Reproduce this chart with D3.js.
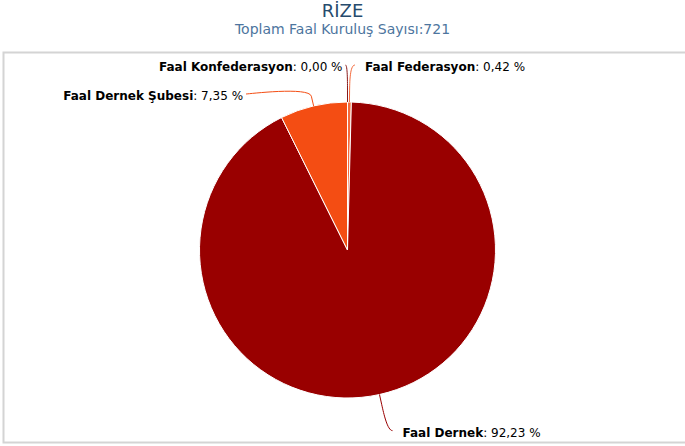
<!DOCTYPE html>
<meta charset="utf-8">
<head>
    <style>
        *{ padding: 0; margin: 0; }
        html,body{ width: 685px; height: 446px; background: #fff; overflow: hidden; }
        svg{ font-family: "DejaVu Sans", Verdana, sans-serif; display: block; }
    </style>
</head>
<body>
    <svg id="chart" width="685" height="446"></svg>
    <script src="https://cdn.jsdelivr.net/npm/d3@7"></script>
    <script>
        // veriler
        var titleText = "RİZE";
        var subtitleText = "Toplam Faal Kuruluş Sayısı:721";
        var names = ["Faal Federasyon", "Faal Dernek", "Faal Dernek Şubesi", "Faal Konfederasyon"];
        var counts = [3, 665, 53, 0];
        var colors = ["#f46a3c", "#990000", "#f44d13", "#8b1a1a"];

        var width = 685, height = 446;
        var svg = d3.select("#chart");

        // cerceve
        svg.append("rect")
            .attr("x", 3.5).attr("y", 52.5)
            .attr("width", 690).attr("height", 390)
            .attr("fill", "#fff")
            .attr("stroke", "#d4d4d4")
            .attr("stroke-width", 2);

        svg.append("text")
            .attr("x", width / 2).attr("y", 17)
            .attr("text-anchor", "middle")
            .attr("fill", "#274b6d")
            .style("font-size", "18px")
            .text(titleText);

        svg.append("text")
            .attr("x", width / 2).attr("y", 34)
            .attr("text-anchor", "middle")
            .attr("fill", "#4d759e")
            .style("font-size", "14px")
            .text(subtitleText);

        var cx = 347.5, cy = 250, r = 148;
        var total = d3.sum(counts);
        var fmt = function(v) { return d3.format(".2f")(v).replace(".", ","); };

        var pie = d3.pie().sort(null).value(function(d) { return d; });
        var arcs = pie(counts);
        var arc = d3.arc().innerRadius(0).outerRadius(r);

        var g = svg.append("g").attr("transform", "translate(" + cx + "," + cy + ")");

        g.selectAll("path.slice")
            .data(arcs)
            .enter().append("path")
            .attr("class", "slice")
            .attr("d", arc)
            .attr("fill", function(d, i) { return colors[i]; })
            .attr("stroke", "#fff")
            .attr("stroke-width", 1)
            .attr("stroke-linejoin", "round");

        // etiket konumlari
        var R = r + 37;
        var labels = arcs.map(function(d, i) {
            var a = (d.startAngle + d.endAngle) / 2;
            var left = a > Math.PI;
            return { i: i, a: a, left: left, y: -R * Math.cos(a) };
        });
        // ayni taraftaki etiketleri ust uste binmesin diye it
        [true, false].forEach(function(side) {
            var s = labels.filter(function(l) { return l.left === side; })
                .sort(function(a, b) { return a.y - b.y; });
            for (var k = 1; k < s.length; k++) {
                if (s[k].y < s[k - 1].y + 29) s[k].y = s[k - 1].y + 29;
            }
        });
        labels.forEach(function(l) {
            var dy = Math.max(-R, Math.min(R, l.y));
            l.x = (l.left ? -1 : 1) * Math.sqrt(R * R - dy * dy);
        });

        var lg = g.append("g");
        labels.forEach(function(l) {
            var sgn = l.left ? -1 : 1;
            var bx = (r + 10) * Math.sin(l.a), by = -(r + 10) * Math.cos(l.a);
            var ex = r * Math.sin(l.a), ey = -r * Math.cos(l.a);
            var sx = l.x + sgn * (l.left ? 2 : 5);
            var path = "M" + sx + "," + l.y +
                "C" + l.x + "," + l.y + " " + (2 * bx - ex) + "," + (2 * by - ey) + " " + bx + "," + by +
                "L" + ex + "," + ey;
            lg.append("path")
                .attr("d", path)
                .attr("fill", "none")
                .attr("stroke", colors[l.i])
                .attr("stroke-width", 1);

            var t = lg.append("text")
                .attr("x", l.x + sgn * (l.left ? 5 : 15))
                .attr("y", l.y + 6)
                .attr("text-anchor", l.left ? "end" : "start")
                .attr("fill", "#000")
                .style("font-size", "12px");
            t.append("tspan").style("font-weight", "bold").text(names[l.i]);
            t.append("tspan").text(": " + fmt(counts[l.i] / total * 100) + " %");
        });
    </script>
</body>
